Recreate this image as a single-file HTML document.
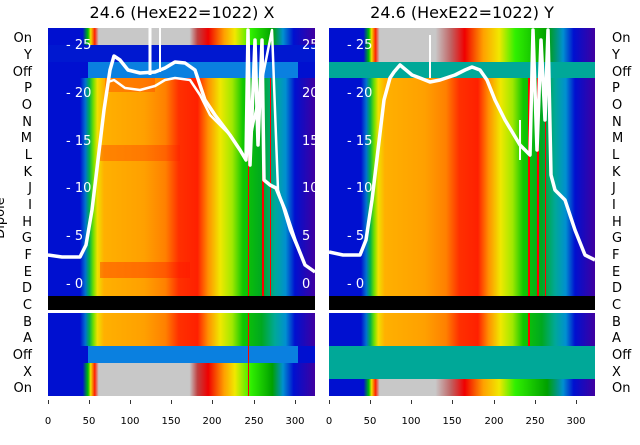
<!DOCTYPE html>
<html><head><meta charset="utf-8"><style>
body{margin:0;background:#fff;width:640px;height:440px;overflow:hidden}
svg text{font-family:"DejaVu Sans","Liberation Sans",sans-serif}
</style></head><body>
<svg width="640" height="440" viewBox="0 0 640 440" xmlns="http://www.w3.org/2000/svg">
<defs>
<linearGradient id="sp" x1="0" x2="1" y1="0" y2="0">
<stop offset="0" stop-color="#0010d0"/><stop offset="0.12" stop-color="#0010d0"/>
<stop offset="0.14" stop-color="#0070d0"/><stop offset="0.155" stop-color="#00b050"/>
<stop offset="0.17" stop-color="#70e000"/><stop offset="0.185" stop-color="#f0e000"/>
<stop offset="0.21" stop-color="#ffb000"/><stop offset="0.36" stop-color="#ffa000"/>
<stop offset="0.44" stop-color="#ff8000"/><stop offset="0.49" stop-color="#ff3000"/>
<stop offset="0.56" stop-color="#ff2000"/><stop offset="0.60" stop-color="#ff9000"/>
<stop offset="0.645" stop-color="#f0e800"/><stop offset="0.69" stop-color="#a0e800"/>
<stop offset="0.73" stop-color="#10c800"/><stop offset="0.80" stop-color="#00a820"/>
<stop offset="0.85" stop-color="#00a898"/><stop offset="0.89" stop-color="#0090d0"/>
<stop offset="0.925" stop-color="#0010d0"/><stop offset="1" stop-color="#4000a0"/></linearGradient>
<linearGradient id="on" x1="0" x2="1" y1="0" y2="0">
<stop offset="0" stop-color="#0010d0"/><stop offset="0.13" stop-color="#0010d0"/>
<stop offset="0.15" stop-color="#00c000"/><stop offset="0.16" stop-color="#f0e000"/>
<stop offset="0.175" stop-color="#ff2000"/><stop offset="0.19" stop-color="#c8c8c8"/>
<stop offset="0.53" stop-color="#c8c8c8"/><stop offset="0.56" stop-color="#c04040"/>
<stop offset="0.60" stop-color="#f00000"/><stop offset="0.66" stop-color="#ffa000"/>
<stop offset="0.70" stop-color="#f0e800"/><stop offset="0.76" stop-color="#30f000"/>
<stop offset="0.84" stop-color="#00a000"/><stop offset="0.88" stop-color="#0090d0"/>
<stop offset="0.92" stop-color="#0010d0"/><stop offset="1" stop-color="#4000a0"/></linearGradient>
<linearGradient id="onR" x1="0" x2="1" y1="0" y2="0">
<stop offset="0" stop-color="#0010d0"/><stop offset="0.13" stop-color="#0010d0"/>
<stop offset="0.15" stop-color="#00c000"/><stop offset="0.16" stop-color="#f0e000"/>
<stop offset="0.175" stop-color="#ff2000"/><stop offset="0.19" stop-color="#c8c8c8"/>
<stop offset="0.40" stop-color="#c8c8c8"/><stop offset="0.46" stop-color="#c06060"/>
<stop offset="0.51" stop-color="#f00000"/><stop offset="0.58" stop-color="#ffa000"/>
<stop offset="0.64" stop-color="#f0e800"/><stop offset="0.70" stop-color="#30f000"/>
<stop offset="0.82" stop-color="#00a000"/><stop offset="0.88" stop-color="#0090d0"/>
<stop offset="0.92" stop-color="#0010d0"/><stop offset="1" stop-color="#4000a0"/></linearGradient>
</defs>
<text x="182" y="18" font-size="16" text-anchor="middle">24.6 (HexE22=1022) X</text>
<text x="462" y="18" font-size="16" text-anchor="middle">24.6 (HexE22=1022) Y</text>
<!-- left panel -->
<g>
<rect x="48" y="28" width="267" height="17" fill="url(#on)"/>
<rect x="48" y="45" width="267" height="17" fill="#0018d0"/>
<rect x="48" y="62" width="267" height="16" fill="#0010d0"/>
<rect x="88" y="62" width="210" height="16" fill="#0a80e0"/>
<rect x="48" y="78" width="267" height="218" fill="url(#sp)"/>
<rect x="105" y="78" width="50" height="14" fill="#ff3000" opacity="0.35"/>
<rect x="100" y="145" width="80" height="16" fill="#ff2000" opacity="0.3"/>
<rect x="100" y="262" width="90" height="16" fill="#ff1000" opacity="0.35"/>
<rect x="48" y="296" width="267" height="14" fill="#000"/>
<rect x="48" y="313" width="267" height="33" fill="url(#sp)"/>
<rect x="48" y="346" width="267" height="17" fill="#0010d0"/>
<rect x="88" y="346" width="210" height="17" fill="#0a80e0"/>
<rect x="48" y="363" width="267" height="33" fill="url(#on)"/>
<g fill="#f00"><rect x="248" y="28" width="1" height="268"/><rect x="262" y="78" width="2" height="218"/><rect x="270" y="78" width="1" height="218"/><rect x="248" y="313" width="1" height="83"/></g>
</g>
<!-- right panel -->
<g>
<rect x="329" y="28" width="266" height="34" fill="url(#onR)"/>
<rect x="329" y="62" width="266" height="16" fill="#00a898"/>
<rect x="329" y="78" width="266" height="218" fill="url(#sp)"/>
<rect x="329" y="296" width="266" height="14" fill="#000"/>
<rect x="329" y="313" width="266" height="33" fill="url(#sp)"/>
<rect x="329" y="346" width="266" height="33" fill="#00a898"/>
<rect x="329" y="379" width="266" height="17" fill="url(#onR)"/>
<g fill="#f00"><rect x="528" y="78" width="2" height="218"/><rect x="537" y="78" width="2" height="218"/><rect x="545" y="78" width="1" height="218"/><rect x="528" y="313" width="2" height="33"/></g>
</g>
<rect x="315" y="28" width="14" height="370" fill="#fff"/>
<!-- inner y ticks -->
<g fill="#fff" font-size="13">
<text x="66" y="49">- 25</text><text x="66" y="97">- 20</text><text x="66" y="145">- 15</text><text x="66" y="192">- 10</text><text x="66" y="240">- 5</text><text x="66" y="288">- 0</text>
<text x="302" y="49">25</text><text x="302" y="97">20</text><text x="302" y="145">15</text><text x="302" y="192">10</text><text x="302" y="240">5</text><text x="302" y="288">0</text>
<text x="347" y="49">- 25</text><text x="347" y="97">- 20</text><text x="347" y="145">- 15</text><text x="347" y="192">- 10</text><text x="347" y="240">- 5</text><text x="347" y="288">- 0</text>
</g>
<!-- white lines -->
<g fill="none" stroke="#fff" stroke-width="3.5" stroke-linejoin="round">
<polyline points="48,255 62,257 80,257 86,245 92,210 98,160 104,110 110,70 114,56 120,60 128,70 140,73 155,72 165,68 175,62 185,63 195,70 205,100 215,115 230,135 240,150 246,160 248,30 250,165 255,40 258,145 262,40 264,180 270,185 276,188 285,210 295,240 305,265 315,272"/>
<polyline points="48,255 62,257 80,257 86,245 92,210 98,160 104,110 108,82 114,80 125,88 140,90 155,86 165,80 175,78 190,80 200,95 210,115 230,135 240,150 246,160 272,30 278,190 290,230 305,265 315,272" stroke-width="2.5"/>
<line x1="150" y1="28" x2="150" y2="75" stroke-width="3"/><line x1="160" y1="28" x2="160" y2="72" stroke-width="2"/>
<polyline points="329,252 343,255 360,255 366,240 372,200 378,150 384,100 390,78 394,72 400,65 406,70 412,75 420,78 430,82 440,80 455,75 465,70 472,67 480,70 487,80 495,100 505,120 520,145 530,155 533,30 537,150 541,40 545,120 548,30 551,175 555,190 565,200 575,230 585,255 595,260"/>
<line x1="430" y1="35" x2="430" y2="78" stroke-width="2"/><line x1="520" y1="120" x2="520" y2="160" stroke-width="2"/>
</g>
<!-- labels -->
<g font-size="13" text-anchor="end">
<text x="32" y="42">On</text><text x="32" y="59">Y</text><text x="32" y="76">Off</text><text x="32" y="92">P</text><text x="32" y="109">O</text><text x="32" y="126">N</text><text x="32" y="142">M</text><text x="32" y="159">L</text><text x="32" y="176">K</text><text x="32" y="192">J</text><text x="32" y="209">I</text><text x="32" y="226">H</text><text x="32" y="242">G</text><text x="32" y="259">F</text><text x="32" y="276">E</text><text x="32" y="292">D</text><text x="32" y="309">C</text><text x="32" y="326">B</text><text x="32" y="342">A</text><text x="32" y="359">Off</text><text x="32" y="376">X</text><text x="32" y="392">On</text>
</g>
<g font-size="13" text-anchor="start">
<text x="612" y="42">On</text><text x="612" y="59">Y</text><text x="612" y="76">Off</text><text x="612" y="92">P</text><text x="612" y="109">O</text><text x="612" y="126">N</text><text x="612" y="142">M</text><text x="612" y="159">L</text><text x="612" y="176">K</text><text x="612" y="192">J</text><text x="612" y="209">I</text><text x="612" y="226">H</text><text x="612" y="242">G</text><text x="612" y="259">F</text><text x="612" y="276">E</text><text x="612" y="292">D</text><text x="612" y="309">C</text><text x="612" y="326">B</text><text x="612" y="342">A</text><text x="612" y="359">Off</text><text x="612" y="376">X</text><text x="612" y="392">On</text>
</g>
<text transform="translate(4,218) rotate(-90)" font-size="13" text-anchor="middle">Dipole</text>
<!-- x ticks -->
<g stroke="#000" stroke-width="0.8">
<line x1="48.5" y1="400" x2="48.5" y2="404"/><line x1="89.5" y1="400" x2="89.5" y2="404"/><line x1="130.5" y1="400" x2="130.5" y2="404"/><line x1="171.5" y1="400" x2="171.5" y2="404"/><line x1="212.5" y1="400" x2="212.5" y2="404"/><line x1="254.5" y1="400" x2="254.5" y2="404"/><line x1="295.5" y1="400" x2="295.5" y2="404"/>
<line x1="329.5" y1="400" x2="329.5" y2="404"/><line x1="370.5" y1="400" x2="370.5" y2="404"/><line x1="411.5" y1="400" x2="411.5" y2="404"/><line x1="452.5" y1="400" x2="452.5" y2="404"/><line x1="494.5" y1="400" x2="494.5" y2="404"/><line x1="535.5" y1="400" x2="535.5" y2="404"/><line x1="576.5" y1="400" x2="576.5" y2="404"/>
</g>
<g font-size="10" text-anchor="middle">
<text x="48" y="424">0</text><text x="89" y="424">50</text><text x="130" y="424">100</text><text x="171" y="424">150</text><text x="212" y="424">200</text><text x="254" y="424">250</text><text x="295" y="424">300</text>
<text x="329" y="424">0</text><text x="370" y="424">50</text><text x="411" y="424">100</text><text x="452" y="424">150</text><text x="494" y="424">200</text><text x="535" y="424">250</text><text x="576" y="424">300</text>
</g>
</svg>
</body></html>
